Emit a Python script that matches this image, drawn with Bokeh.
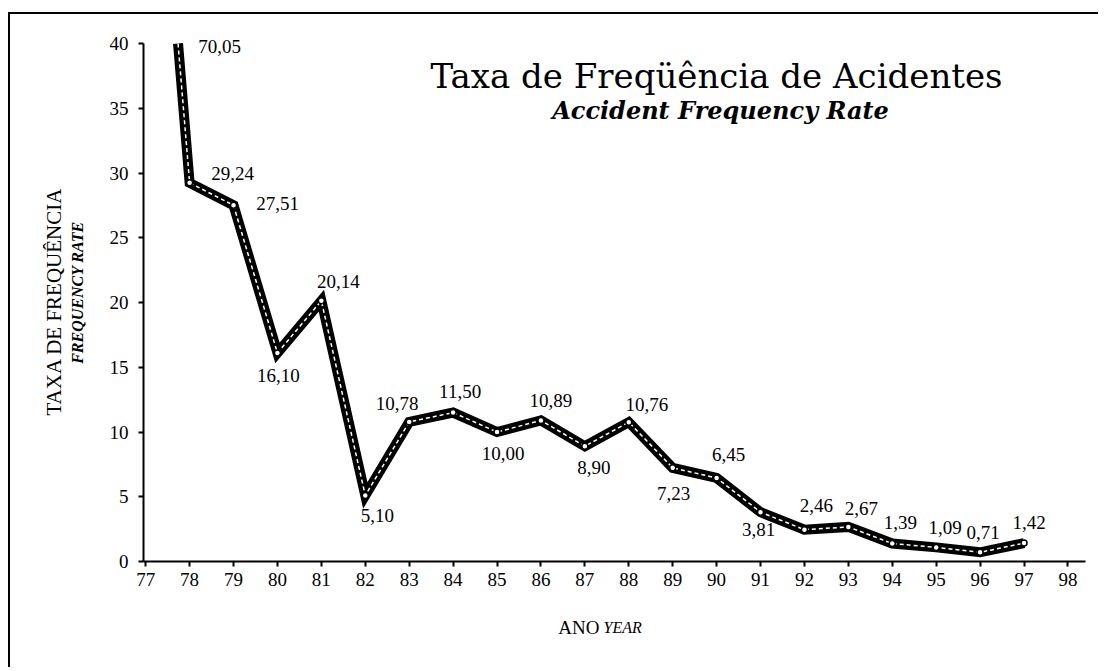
import math
from bokeh.plotting import figure
from bokeh.models import ColumnDataSource, Label, FixedTicker, Range1d, LinearAxis
from bokeh.core.properties import value
from bokeh.embed import file_html
from bokeh.resources import INLINE

# ---- data ----
years = [77, 78, 79, 80, 81, 82, 83, 84, 85, 86, 87, 88, 89, 90, 91, 92, 93, 94, 95, 96, 97]
rates = [70.05, 29.24, 27.51, 16.10, 20.14, 5.10, 10.78, 11.50, 10.00, 10.89, 8.90,
         10.76, 7.23, 6.45, 3.81, 2.46, 2.67, 1.39, 1.09, 0.71, 1.42]
rate_text = ["70,05", "29,24", "27,51", "16,10", "20,14", "5,10", "10,78", "11,50", "10,00",
             "10,89", "8,90", "10,76", "7,23", "6,45", "3,81", "2,46", "2,67", "1,39",
             "1,09", "0,71", "1,42"]
x_ticks = list(range(77, 99))
y_ticks = [0, 5, 10, 15, 20, 25, 30, 35, 40]

title_pt = "Taxa de Freqüência de Acidentes"
title_en = "Accident Frequency Rate"
ylabel_pt = "TAXA DE FREQUÊNCIA"
ylabel_en = "FREQUENCY RATE"
xlabel_pt = "ANO"
xlabel_en = "YEAR"

# ---- label placement (pixels) ----
lab_dx = [74, 43, 44, 1, 17, 12, -12, 7, 6, 10, 9, 18, 1, 12, -2, 12, 13, 8, 9, 3, 5]
lab_dy = [3, -9, -2, 22, -19, 20, -18, -21, 21, -20, 21, -18, 26, -23, 17, -24, -18, -21, -20, -20, -21]

# ---- layout (page pixels) ----
Y_MIN_AX, Y_MAX_AX = 0, 40
X_MIN_AX, X_MAX_AX = 76.95, 98.4
AX_LEFT, AX_RIGHT, AX_TOP, AX_BOTTOM = 143, 1085, 43, 561
OX, OY = 10, 14          # canvas origin on the page
W, H = 1090, 655

dpx = (X_MAX_AX - X_MIN_AX) / (AX_RIGHT - AX_LEFT)
dpy = (Y_MAX_AX - Y_MIN_AX) / (AX_BOTTOM - AX_TOP)
x0 = X_MIN_AX - (AX_LEFT - OX) * dpx
y1 = Y_MAX_AX + (AX_TOP - OY) * dpy

def dx(page_x):
    return X_MIN_AX + (page_x - AX_LEFT) * dpx

def dy(page_y):
    return Y_MIN_AX + (AX_BOTTOM - page_y) * dpy

p = figure(width=W, height=H, output_backend="svg", toolbar_location=None,
           x_range=Range1d(x0, x0 + W * dpx), y_range=Range1d(y1 - H * dpy, y1),
           x_axis_location=None, y_axis_location=None, min_border=0)
p.styles = {"border-left": "2px solid black", "border-top": "2px solid black",
            "margin-left": "8px", "margin-top": "12px"}
p.outline_line_color = None
p.xgrid.grid_line_color = None
p.ygrid.grid_line_color = None
p.background_fill_color = "white"
p.border_fill_color = "white"

serif = "Liberation Serif"
xax = LinearAxis(fixed_location=Y_MIN_AX, bounds=(X_MIN_AX, X_MAX_AX),
                 ticker=FixedTicker(ticks=x_ticks), major_label_standoff=6)
yax = LinearAxis(fixed_location=X_MIN_AX, bounds=(Y_MIN_AX, Y_MAX_AX),
                 ticker=FixedTicker(ticks=y_ticks), major_label_standoff=10)
for ax in (xax, yax):
    ax.axis_line_width = 2
    ax.axis_line_color = "black"
    ax.major_tick_line_color = "black"
    ax.major_tick_line_width = 2
    ax.major_tick_in = 0
    ax.major_tick_out = 5
    ax.minor_tick_line_color = None
    ax.major_label_text_font = serif
    ax.major_label_text_font_size = "19px"
    ax.major_label_text_color = "black"
p.add_layout(xax, "below")
p.add_layout(yax, "left")

# polyline clipped at the top of the value axis (derived from the data)
line_x, line_y = [], []
for i in range(len(years)):
    xa, ya = years[i], rates[i]
    if ya <= Y_MAX_AX:
        line_x.append(xa)
        line_y.append(ya)
    if i + 1 < len(years):
        xb, yb = years[i + 1], rates[i + 1]
        if (ya - Y_MAX_AX) * (yb - Y_MAX_AX) < 0:
            t = (Y_MAX_AX - ya) / (yb - ya)
            line_x.append(xa + t * (xb - xa))
            line_y.append(Y_MAX_AX)

pts_x = [x for x, v in zip(years, rates) if v <= Y_MAX_AX]
pts_y = [v for v in rates if v <= Y_MAX_AX]

p.line(line_x, line_y, line_color="black", line_width=10, line_join="miter")
p.line(line_x, line_y, line_color="white", line_width=1.5, line_dash="4 3")
p.scatter(pts_x, pts_y, size=6, fill_color="white", line_color="black", line_width=1.5)

src = ColumnDataSource(dict(x=years, t=rate_text, ly=[min(v, Y_MAX_AX) for v in rates],
                            ox=lab_dx, oy=lab_dy))
p.text("x", "ly", text="t", source=src, x_offset="ox", y_offset="oy",
       text_font=value(serif), text_font_size="19px", text_color="black",
       text_align="center", text_baseline="middle")

def lab(x, y, text, font, size, style="normal", align="center", angle=0.0):
    p.add_layout(Label(x=dx(x), y=dy(y), text=text,
                       text_font=font, text_font_size=size, text_font_style=style,
                       text_align=align, text_baseline="middle", angle=angle,
                       text_color="black"))

lab(716, 75, title_pt, "DejaVu Serif", "34px")
lab(720, 110, title_en, "DejaVu Serif", "24px", "bold italic")
lab(53, 301, ylabel_pt, serif, "21px", angle=math.pi / 2)
lab(77, 292, ylabel_en, serif, "16px", "bold italic", angle=math.pi / 2)
lab(599, 627, xlabel_pt, serif, "19px", align="right")
lab(603, 627, xlabel_en, serif, "16px", "italic", align="left")

open("out.html", "w").write(file_html(p, INLINE))
